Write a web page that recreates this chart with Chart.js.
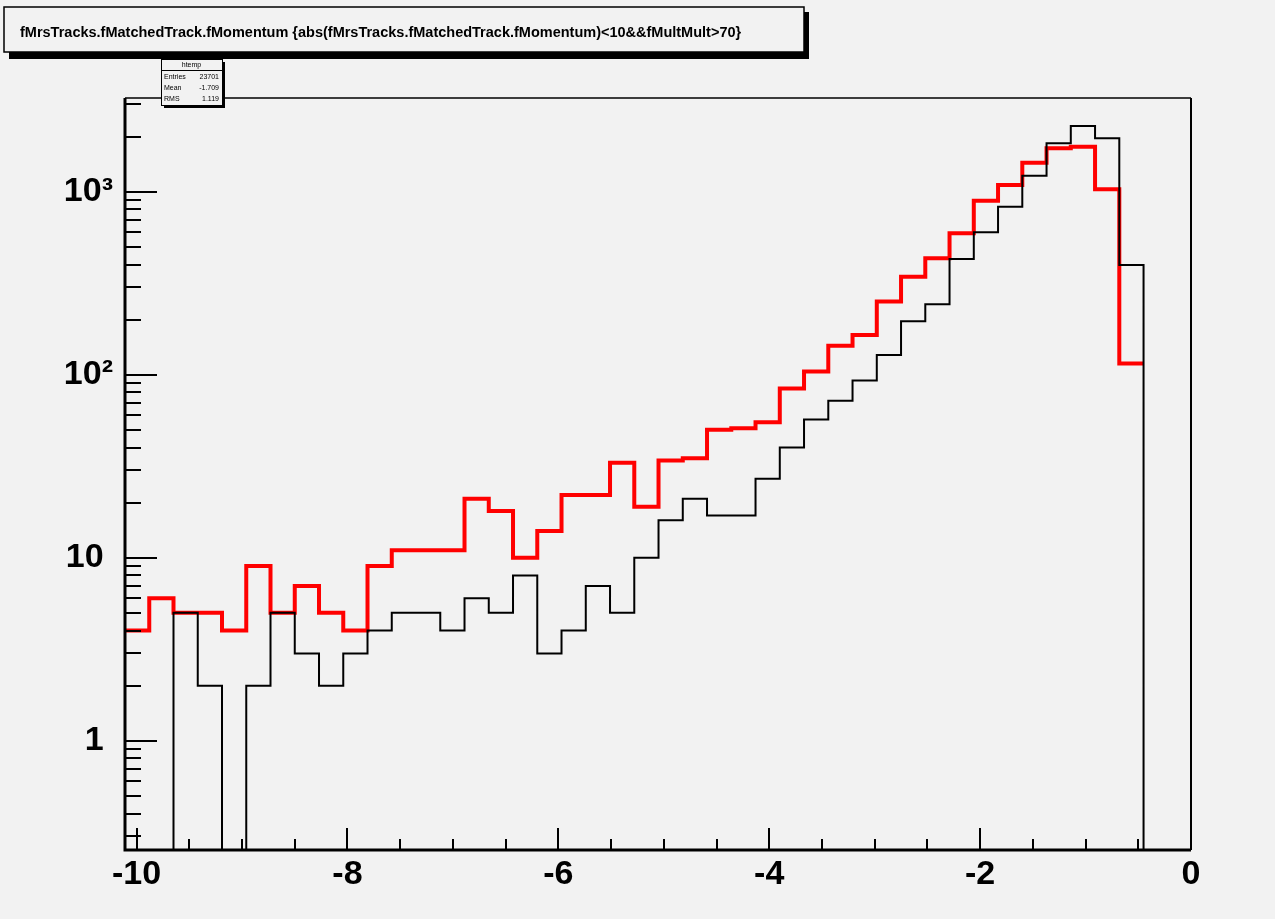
<!DOCTYPE html>
<html>
<head>
<meta charset="utf-8">
<script src="https://cdn.jsdelivr.net/npm/chart.js@4.4.1/dist/chart.umd.min.js"></script>
<style>
  html, body { margin: 0; padding: 0; background: #f2f2f2; }
</style>
</head>
<body>
<canvas id="hist" width="1275" height="919"></canvas>
<script>
var titleText = 'fMrsTracks.fMatchedTrack.fMomentum {abs(fMrsTracks.fMatchedTrack.fMomentum)<10&&fMultMult>70}';
var statName = 'htemp';
var statLabels = ['Entries', 'Mean', 'RMS'];
var statValues = ['23701', '-1.709', '1.119'];

// histogram binning (42 bins)
var binLow = -10.11;
var binWidth = 0.23;

// black histogram (drawn on top)
var countsBlack = [0, 0, 5, 2, 0, 2, 5, 3, 2, 3,
                   4, 5, 5, 4, 6, 5, 8, 3, 4, 7,
                   5, 10, 16, 21, 17, 17, 27, 40, 57, 72,
                   93, 128, 196, 243, 429, 600, 828, 1223, 1838, 2287,
                   1958, 397];
// red histogram
var countsRed = [4, 6, 5, 5, 4, 9, 5, 7, 5, 4,
                 9, 11, 11, 11, 21, 18, 10, 14, 22, 22,
                 33, 19, 34, 35, 50, 51, 55, 84, 104, 144,
                 165, 251, 343, 433, 593, 893, 1088, 1441, 1727, 1762,
                 1030, 115];

var xTicks = [-10, -8, -6, -4, -2, 0];
var yTicks = [1, 10, 100, 1000];
var yTickLabels = ['1\u2008', '10\u2008', '10\u00b2', '10\u00b3'];

// empty bins can't sit on a log axis: put them below the visible range (clipped)
var emptyLevel = 0.01;

function histPoints(counts, dropAtEnd) {
  var pts = [];
  for (var i = 0; i < counts.length; i++) {
    pts.push({x: binLow + i * binWidth, y: counts[i] > 0 ? counts[i] : emptyLevel});
  }
  var xEnd = binLow + counts.length * binWidth;
  pts.push({x: xEnd, y: counts[counts.length - 1]});
  if (dropAtEnd) pts.push({x: xEnd, y: emptyLevel});
  return pts;
}

var labelFont = {family: '"Liberation Sans", Arial, sans-serif', size: 34, weight: 'bold'};

// ROOT-like frame, inward ticks, title box and stats box
var rootDecor = {
  id: 'rootDecor',
  beforeDraw: function(chart) {
    var c = chart.ctx;
    c.save();
    c.fillStyle = '#f2f2f2';
    c.fillRect(0, 0, chart.width, chart.height);
    c.restore();
  },
  afterDatasetsDraw: function(chart) {
    var c = chart.ctx, a = chart.chartArea;
    var xs = chart.scales.x, ys = chart.scales.y;
    c.save();
    c.strokeStyle = '#000';
    // x ticks every 0.5, major every 2
    c.lineWidth = 2;
    for (var k = 0; k <= 20; k++) {
      var v = -10 + k * 0.5;
      var px = Math.round(xs.getPixelForValue(v));
      var len = (k % 4 === 0) ? 22 : 11;
      c.beginPath();
      c.moveTo(px, a.bottom);
      c.lineTo(px, a.bottom - len);
      c.stroke();
    }
    // y ticks, log decades
    for (var e = -1; e <= 3; e++) {
      for (var m = 1; m <= 9; m++) {
        var val = m * Math.pow(10, e);
        if (val < ys.min || val > ys.max) continue;
        var py = Math.round(ys.getPixelForValue(val));
        var l = (m === 1) ? 32 : 16;
        c.beginPath();
        c.moveTo(a.left, py);
        c.lineTo(a.left + l, py);
        c.stroke();
      }
    }
    // frame
    c.lineWidth = 1.5;
    c.beginPath();
    c.moveTo(a.left, a.top);
    c.lineTo(a.right, a.top);
    c.stroke();
    c.lineWidth = 2;
    c.beginPath();
    c.moveTo(a.right, a.top);
    c.lineTo(a.right, a.bottom);
    c.stroke();
    c.lineWidth = 3;
    c.beginPath();
    c.moveTo(a.left, a.top);
    c.lineTo(a.left, a.bottom);
    c.lineTo(a.right, a.bottom);
    c.stroke();
    c.restore();
  },
  afterDraw: function(chart) {
    var c = chart.ctx;
    c.save();
    // title box with shadow
    c.fillStyle = '#000';
    c.fillRect(9, 12, 800, 47);
    c.fillStyle = '#f2f2f2';
    c.fillRect(4, 7, 800, 45);
    c.strokeStyle = '#000';
    c.lineWidth = 1.5;
    c.strokeRect(4, 7, 800, 45);
    c.fillStyle = '#000';
    c.font = 'bold 14.5px "Liberation Sans", Arial, sans-serif';
    c.textBaseline = 'alphabetic';
    c.textAlign = 'left';
    c.fillText(titleText, 20, 37);

    // stats box
    var bx = 161, by = 59, bw = 61, bh = 46;
    c.fillStyle = '#000';
    c.fillRect(bx + 3, by + 3, bw, bh);
    c.fillStyle = '#f2f2f2';
    c.fillRect(bx, by, bw, bh);
    c.lineWidth = 1;
    c.strokeRect(bx + 0.5, by + 0.5, bw, bh);
    c.beginPath();
    c.moveTo(bx, by + 11.5);
    c.lineTo(bx + bw, by + 11.5);
    c.stroke();
    c.fillStyle = '#000';
    c.font = '7px "Liberation Sans", Arial, sans-serif';
    c.textAlign = 'center';
    c.textBaseline = 'middle';
    c.fillText(statName, bx + bw / 2, by + 6);
    for (var i = 0; i < statLabels.length; i++) {
      var ry = by + 18 + i * 11;
      c.textAlign = 'left';
      c.fillText(statLabels[i], bx + 3, ry);
      c.textAlign = 'right';
      c.fillText(statValues[i], bx + bw - 3, ry);
    }
    c.restore();
  }
};

var ctx = document.getElementById('hist').getContext('2d');

var myChart = new Chart(ctx, {
  type: 'line',
  data: {
    datasets: [{
      label: 'black',
      data: histPoints(countsBlack, true),
      stepped: true,
      borderColor: '#000000',
      borderWidth: 2,
      pointRadius: 0,
      fill: false,
      order: 1
    }, {
      label: 'red',
      data: histPoints(countsRed, false),
      stepped: true,
      borderColor: '#ff0000',
      borderWidth: 4,
      pointRadius: 0,
      fill: false,
      order: 2
    }]
  },
  options: {
    responsive: false,
    devicePixelRatio: 1,
    animation: false,
    layout: {padding: {top: 98, right: 84, bottom: 0, left: 0}},
    plugins: {
      legend: {display: false},
      tooltip: {enabled: false},
      title: {display: false}
    },
    scales: {
      x: {
        type: 'linear',
        min: binLow,
        max: 0,
        grid: {display: false, drawTicks: false},
        border: {display: false},
        afterBuildTicks: function(scale) {
          scale.ticks = xTicks.map(function(v) { return {value: v}; });
        },
        afterFit: function(scale) { scale.height = 69; },
        ticks: {
          color: '#000',
          font: labelFont,
          padding: 4,
          maxRotation: 0,
          autoSkip: false,
          callback: function(v) { return String(v); }
        }
      },
      y: {
        type: 'logarithmic',
        min: 0.253,
        max: 3250,
        grid: {display: false, drawTicks: false},
        border: {display: false},
        afterBuildTicks: function(scale) {
          scale.ticks = yTicks.map(function(v) { return {value: v}; });
        },
        afterFit: function(scale) { scale.width = 125; },
        ticks: {
          color: '#000',
          font: labelFont,
          padding: 12,
          autoSkip: false,
          callback: function(v) {
            var i = yTicks.indexOf(v);
            return i >= 0 ? yTickLabels[i] : '';
          }
        }
      }
    }
  },
  plugins: [rootDecor]
});
</script>
</body>
</html>
